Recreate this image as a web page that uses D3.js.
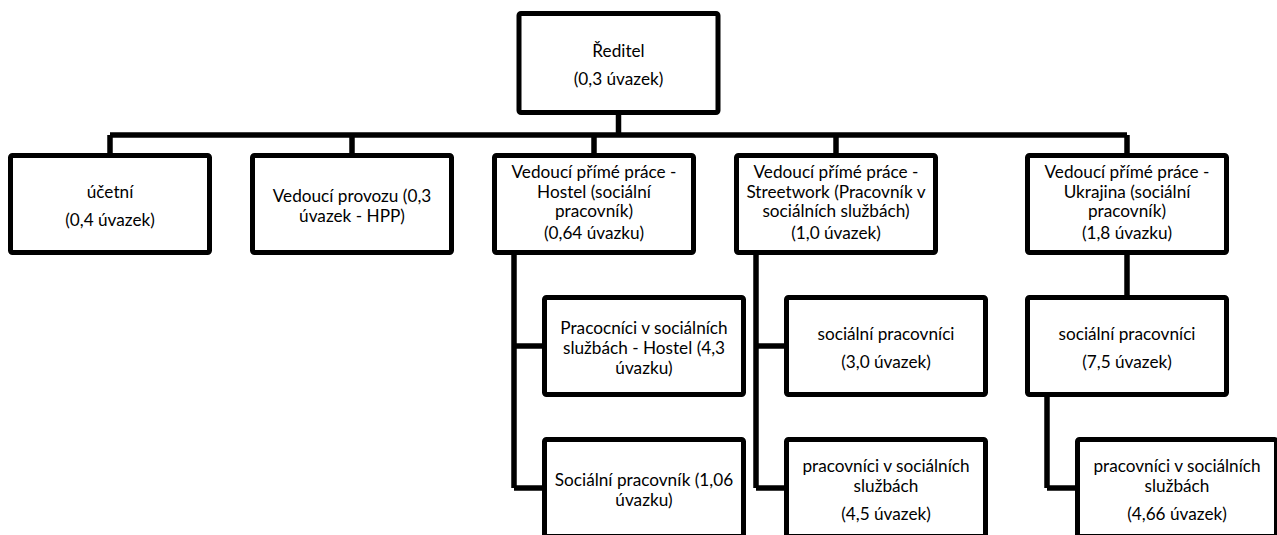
<!DOCTYPE html>
<html>
<head>
<meta charset="utf-8">
<script src="https://cdn.jsdelivr.net/npm/d3@7"></script>
<style>
  body { margin: 0; background: #fff; }
  .box { fill: #fff; stroke: #000; stroke-width: 5; }
  .link { fill: none; stroke: #000; stroke-width: 5.5; stroke-linejoin: round; }
  .label { font-family: Lato, "Liberation Sans", sans-serif; font-size: 17.2px; fill: #000; }
</style>
</head>
<body>
<div id="chart"></div>
<script>
// Node ids and their parents (org structure)
var nodeIds = ["reditel", "ucetni", "provoz", "hostel", "street", "ukrajina",
  "hostelPss", "hostelSp", "streetSp", "streetPss", "ukrSp", "ukrPss"];
var parentIds = ["", "reditel", "reditel", "reditel", "reditel", "reditel",
  "hostel", "hostel", "street", "street", "ukrajina", "ukrSp"];

// Box texts: paragraphs, each split in lines
var nodeTexts = [
  [["Ředitel"], ["(0,3 úvazek)"]],
  [["účetní"], ["(0,4 úvazek)"]],
  [["Vedoucí provozu (0,3", "úvazek - HPP)"]],
  [["Vedoucí přímé práce -", "Hostel (sociální", "pracovník)"], ["(0,64 úvazku)"]],
  [["Vedoucí přímé práce -", "Streetwork (Pracovník v", "sociálních službách)"], ["(1,0 úvazek)"]],
  [["Vedoucí přímé práce -", "Ukrajina (sociální", "pracovník)"], ["(1,8 úvazku)"]],
  [["Pracocníci v sociálních", "službách - Hostel (4,3", "úvazku)"]],
  [["Sociální pracovník (1,06", "úvazku)"]],
  [["sociální pracovníci"], ["(3,0 úvazek)"]],
  [["pracovníci v sociálních", "službách"], ["(4,5 úvazek)"]],
  [["sociální pracovníci"], ["(7,5 úvazek)"]],
  [["pracovníci v sociálních", "službách"], ["(4,66 úvazek)"]]
];

// SVG area
var svgWidth = 1277;
var svgHeight = 535;

// Box size and hanging layout offsets
var boxW = 204;
var boxH = 102;
var trunkOffset = 22;
var indent = 50;
var stroke = 5;

// Column lefts (top level children) and row tops
var colScale = d3.scaleLinear().domain([0, 3, 4]).range([8, 734, 1025]);
var rowScale = d3.scaleLinear().domain([0, 1]).range([11, 153]);

var svg = d3
  .select("#chart")
  .append("svg")
  .attr("width", svgWidth)
  .attr("height", svgHeight);

// Build the hierarchy
var table = nodeIds.map((id, i) => ({ id: id, parent: parentIds[i], text: nodeTexts[i] }));
var root = d3
  .stratify()
  .id((d) => d.id)
  .parentId((d) => d.parent || null)(table);

// Layout: top level in columns, deeper levels below or hanging
root.children.forEach((c, i) => {
  c.left = colScale(i);
  c.row = 1;
});
root.left = (root.children[0].left + root.children[root.children.length - 1].left) / 2;
root.row = 0;

function place(node) {
  if (!node.children) return;
  var hanging = node.depth >= 2 || node.children.length > 1;
  node.hanging = hanging;
  node.children.forEach((c, i) => {
    c.left = hanging ? node.left + indent : node.left;
    c.row = node.row + 1 + i;
    place(c);
  });
}
root.children.forEach(place);

var nodes = root.descendants();
nodes.forEach((d) => {
  d.top = rowScale(d.row);
  d.h = d.depth === 0 ? boxH + 2 : boxH;
  d.cx = d.left + boxW / 2;
  d.cy = d.top + d.h / 2;
});

// Connectors
var links = [];
var busY = (root.top + root.h + root.children[0].top) / 2 + 1;
links.push([[root.cx, root.top + root.h], [root.cx, busY]]);
links.push([[root.children[0].cx, busY], [root.children[root.children.length - 1].cx, busY]]);
root.children.forEach((c) => links.push([[c.cx, busY], [c.cx, c.top]]));

nodes.forEach((d) => {
  if (!d.children || d.depth === 0) return;
  if (d.hanging) {
    var tx = d.left + trunkOffset;
    var last = d.children[d.children.length - 1];
    links.push([[tx, d.top + d.h], [tx, last.cy]]);
    d.children.forEach((c) => links.push([[tx, c.cy], [c.left, c.cy]]));
  } else {
    d.children.forEach((c) => links.push([[d.cx, d.top + d.h], [c.cx, c.top]]));
  }
});

var line = d3.line();
svg
  .append("g")
  .selectAll("path")
  .data(links)
  .enter()
  .append("path")
  .classed("link", true)
  .attr("d", (d) => line(d));

// Boxes
var g = svg
  .append("g")
  .selectAll("g")
  .data(nodes)
  .enter()
  .append("g");

g.append("rect")
  .classed("box", true)
  .attr("x", (d) => d.left + stroke / 2)
  .attr("y", (d) => d.top + stroke / 2)
  .attr("width", boxW - stroke)
  .attr("height", (d) => d.h - stroke)
  .attr("rx", 2);

// Text lines, centred in the box
g.each(function (d) {
  var paras = d.data.text;
  var count = d3.sum(paras, (p) => p.length);
  var lineH = count >= 4 ? 19.5 : 20;
  var gap = count >= 4 ? 2 : 8.5;
  var shift = count >= 4 ? 4.5 : 8;
  var ys = [];
  var y = 0;
  paras.forEach((p) => {
    p.forEach((t) => {
      ys.push({ t: t, y: y });
      y += lineH;
    });
    y += gap;
  });
  var span = ys[ys.length - 1].y;
  d3.select(this)
    .selectAll("text")
    .data(ys)
    .enter()
    .append("text")
    .classed("label", true)
    .attr("text-anchor", "middle")
    .attr("x", d.cx)
    .attr("y", (l) => d.cy - span / 2 + l.y + shift)
    .text((l) => l.t);
});
</script>
</body>
</html>
